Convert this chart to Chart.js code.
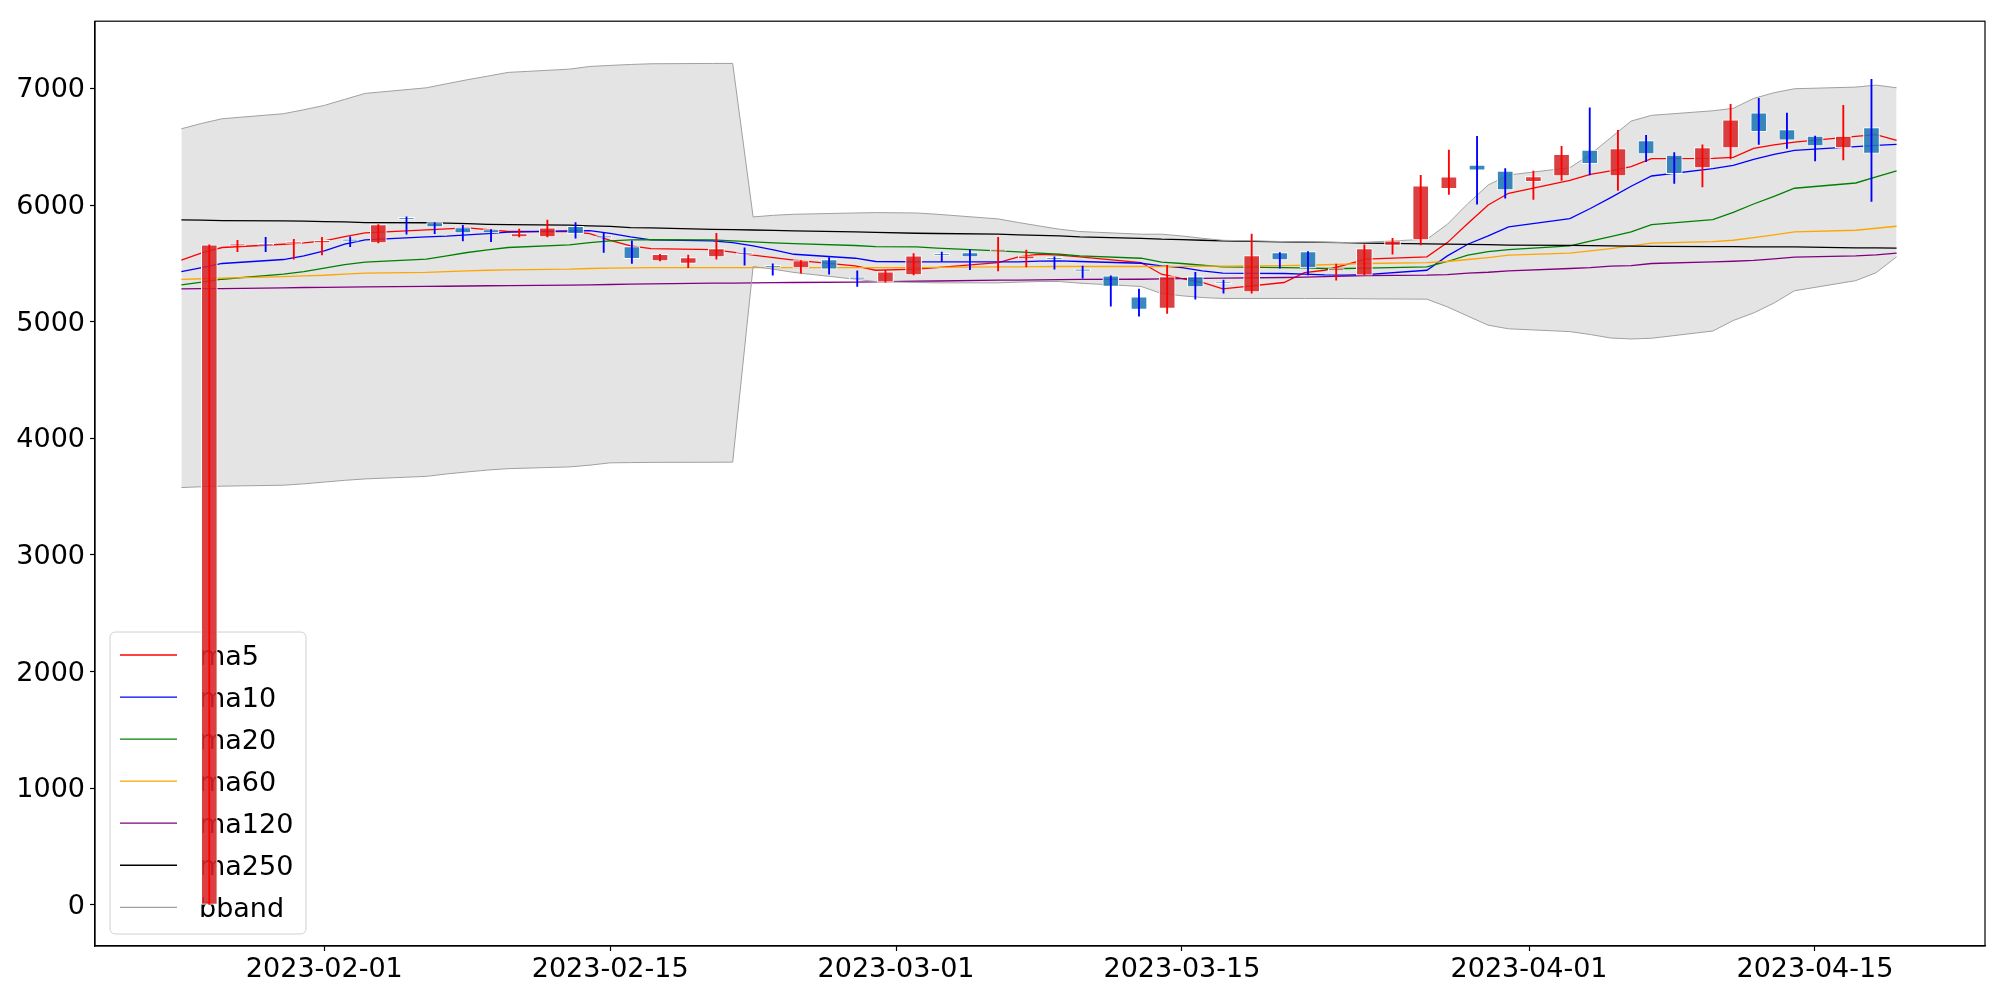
<!DOCTYPE html>
<html><head><meta charset="utf-8">
<script src="https://cdn.jsdelivr.net/npm/chart.js@4.4.0/dist/chart.umd.min.js"></script>
<style>html,body{margin:0;padding:0;background:#fff;}canvas{display:block;}</style>
</head><body>
<canvas id="c" width="2000" height="1000"></canvas>
<script>
const dates = ['2023-01-25','2023-01-26','2023-01-27','2023-01-30','2023-01-31','2023-02-01','2023-02-02','2023-02-03',
'2023-02-06','2023-02-07','2023-02-08','2023-02-09','2023-02-10','2023-02-13','2023-02-14','2023-02-15','2023-02-16','2023-02-17',
'2023-02-20','2023-02-21','2023-02-22','2023-02-23','2023-02-24','2023-02-27','2023-02-28','2023-03-02','2023-03-03',
'2023-03-06','2023-03-07','2023-03-08','2023-03-09','2023-03-10','2023-03-13','2023-03-14','2023-03-15','2023-03-16','2023-03-17',
'2023-03-20','2023-03-21','2023-03-22','2023-03-23','2023-03-24','2023-03-27','2023-03-28','2023-03-29','2023-03-30','2023-03-31',
'2023-04-03','2023-04-04','2023-04-05','2023-04-06','2023-04-07','2023-04-10','2023-04-11','2023-04-12','2023-04-13','2023-04-14',
'2023-04-17','2023-04-18','2023-04-19'];

const opens  = [0,5650,5660,5670,5675,5695,5675,5887,5850,5807,5790,5727,5727,5818,5723,5644,5521,5499,5555,5593,
5469,5461,5533,5369,5339,5402,5572,5593,5605,5538,5538,5438,5393,5213,5113,5387,5329,5256,5593,5601,
5436,5399,5653,5701,6141,6343,6292,6201,6249,6472,6249,6552,6429,6318,6489,6791,6646,6592,6489,6663];
const highs  = [5658,5698,5724,5707,5724,5727,5832,5898,5850,5827,5790,5793,5870,5850,5764,5693,5578,5570,5758,5633,
5496,5524,5550,5436,5441,5584,5596,5616,5724,5613,5556,5476,5393,5279,5484,5424,5356,5750,5593,5601,
5493,5658,5715,6255,6472,6589,6312,6292,6503,6834,6640,6597,6449,6517,6863,6914,6789,6592,6854,7077];
const lows   = [0,5601,5601,5536,5573,5644,5675,5750,5755,5693,5687,5727,5727,5715,5593,5499,5521,5464,5536,5484,
5399,5416,5407,5302,5339,5402,5516,5447,5436,5470,5450,5373,5133,5048,5071,5193,5244,5244,5459,5402,
5356,5399,5578,5658,6092,6007,6058,6049,6212,6258,6126,6372,6186,6155,6395,6520,6486,6378,6386,6032];
const closes = [5658,5663,5655,5674,5698,5691,5832,5877,5812,5761,5761,5755,5804,5755,5719,5541,5578,5550,5627,5576,
5465,5524,5450,5365,5427,5564,5568,5556,5609,5564,5534,5434,5302,5105,5387,5299,5325,5567,5530,5461,
5456,5627,5693,6164,6241,6298,6129,6244,6435,6355,6483,6438,6269,6492,6731,6629,6557,6506,6592,6443];

const ma5   = [5527,5590,5636,5664,5675,5693,5730,5761,5787,5795,5804,5790,5773,5773,5755,5698,5650,5627,5618,5596,
5570,5550,5527,5479,5441,5450,5464,5507,5556,5578,5570,5556,5507,5407,5370,5336,5282,5336,5421,5441,
5487,5536,5556,5678,5841,6001,6101,6212,6263,6292,6329,6398,6400,6409,6486,6515,6540,6589,6603,6555];
const ma10  = [5430,5464,5499,5533,5564,5607,5664,5701,5727,5733,5744,5755,5767,5778,5781,5758,5727,5701,5693,5678,
5650,5616,5578,5544,5516,5513,5513,5513,5513,5519,5521,5516,5501,5479,5464,5436,5416,5413,5407,5401,
5399,5404,5441,5564,5664,5735,5812,5884,5970,6064,6161,6249,6312,6340,6392,6435,6469,6500,6512,6520];
const ma20  = [5316,5340,5364,5407,5430,5459,5490,5510,5536,5564,5593,5616,5636,5658,5678,5693,5701,5704,5701,5693,
5684,5676,5670,5653,5644,5641,5630,5607,5598,5587,5578,5564,5544,5510,5499,5484,5470,5464,5461,5456,
5456,5459,5470,5516,5570,5601,5618,5650,5690,5730,5770,5832,5875,5938,6009,6075,6144,6189,6241,6292];
const ma60  = [5362,5368,5373,5387,5393,5398,5407,5416,5422,5430,5436,5441,5444,5450,5456,5459,5461,5464,5464,5464,
5464,5464,5464,5464,5464,5464,5466,5470,5470,5472,5473,5473,5473,5473,5475,5476,5476,5481,5484,5488,
5493,5499,5507,5516,5533,5550,5570,5587,5607,5627,5650,5673,5687,5698,5721,5744,5770,5784,5801,5818];
const ma120 = [5282,5283,5284,5290,5293,5295,5297,5299,5302,5304,5306,5308,5310,5313,5316,5319,5322,5325,5330,5331,
5333,5335,5336,5339,5341,5347,5349,5356,5357,5358,5360,5362,5364,5367,5369,5371,5373,5379,5382,5386,
5390,5396,5399,5404,5416,5424,5436,5456,5464,5476,5481,5499,5513,5518,5525,5538,5553,5564,5573,5587];
const ma250 = [5872,5870,5867,5864,5862,5858,5855,5850,5848,5845,5840,5835,5832,5827,5822,5817,5807,5804,5792,5789,
5786,5782,5779,5770,5766,5758,5756,5750,5745,5740,5735,5727,5715,5707,5703,5698,5693,5684,5682,5680,
5677,5673,5667,5665,5662,5660,5657,5654,5652,5650,5648,5646,5644,5643,5642,5641,5641,5633,5632,5630];
const bbUpper = [6654,6700,6740,6783,6817,6854,6906,6957,7005,7040,7074,7105,7137,7165,7188,7197,7205,7211,7214,7214,
5898,5912,5921,5932,5935,5932,5921,5881,5850,5821,5793,5773,5750,5750,5735,5715,5698,5687,5684,5681,
5678,5681,5707,5835,6012,6172,6258,6320,6435,6577,6720,6769,6808,6829,6914,6963,6997,7011,7028,7005];
const bbLower = [3578,3585,3590,3598,3610,3625,3640,3652,3674,3695,3712,3728,3740,3755,3770,3790,3792,3794,3795,3796,
5473,5450,5422,5364,5344,5336,5333,5333,5339,5344,5344,5330,5302,5242,5222,5207,5199,5199,5199,5199,
5198,5196,5193,5127,5048,4970,4939,4915,4890,4860,4852,4858,4920,5010,5075,5160,5265,5352,5420,5556];

const xTickLabels = ['2023-02-01','2023-02-15','2023-03-01','2023-03-15','2023-04-01','2023-04-15'];
const yTicks = [0,1000,2000,3000,4000,5000,6000,7000];
const legendNames = ['ma5','ma10','ma20','ma60','ma120','ma250','bband'];

// ---- layout / style constants ----
const FONT = '"DejaVu Sans", sans-serif';
const FS = 27;
const REF = Date.UTC(2023,1,1);
function dayNum(s){const p=s.split('-').map(Number);return (Date.UTC(p[0],p[1]-1,p[2])-REF)/86400000;}
const xs = dates.map(dayNum);
const XMIN = -11.23, XMAX = 81.33;       // date axis limits (days from 2023-02-01)
const X2MIN = -4.057, X2MAX = 63.03;     // candle (index) axis limits
const YMIN = -352, YMAX = 7576;
const lineColors = ['red','blue','green','orange','purple','black','#a0a0a0'];

const ser = a => a.map((v,i)=>({x:xs[i], y:v}));
const up = closes.map((c,i)=>c>=opens[i]);
const bodyColors = up.map(u=>u?'rgba(214,39,40,0.88)':'rgba(31,119,180,0.88)');
const wickColors = up.map(u=>u?'#ff0000':'#0000ff');

const maSets = [ma5,ma10,ma20,ma60,ma120,ma250];
const datasets = [];
datasets.push({type:'line', label:'bbU', data:ser(bbUpper), xAxisID:'x', borderColor:'#a0a0a0', borderWidth:1,
  backgroundColor:'#e4e4e4', fill:'+1', pointRadius:0, tension:0, order:8});
datasets.push({type:'line', label:'bbL', data:ser(bbLower), xAxisID:'x', borderColor:'#a0a0a0', borderWidth:1,
  fill:false, pointRadius:0, tension:0, order:9});
maSets.forEach((a,k)=>{
  datasets.push({type:'line', label:legendNames[k], data:ser(a), xAxisID:'x', borderColor:lineColors[k], borderWidth:1.3,
    fill:false, pointRadius:0, tension:0, order:15-k});
});
const BODY_INDEX = datasets.length;
datasets.push({type:'bar', label:'body', xAxisID:'x2', data:opens.map((o,i)=>({x:i, y:[o, closes[i]]})),
  backgroundColor:bodyColors, borderColor:'#ffffff', borderWidth:1, borderSkipped:false, barThickness:16,
  grouped:false, minBarLength:2, order:2});
datasets.push({type:'bar', label:'wick', xAxisID:'x2', data:lows.map((l,i)=>({x:i, y:[l, highs[i]]})),
  backgroundColor:wickColors, borderWidth:0, barThickness:1.2, grouped:false, order:1});

function drawLegend(ctx){
  ctx.save();
  const bx=110, by=632, bw=196, bh=302, r=6;
  ctx.beginPath();
  ctx.moveTo(bx+r,by); ctx.lineTo(bx+bw-r,by); ctx.quadraticCurveTo(bx+bw,by,bx+bw,by+r);
  ctx.lineTo(bx+bw,by+bh-r); ctx.quadraticCurveTo(bx+bw,by+bh,bx+bw-r,by+bh);
  ctx.lineTo(bx+r,by+bh); ctx.quadraticCurveTo(bx,by+bh,bx,by+bh-r);
  ctx.lineTo(bx,by+r); ctx.quadraticCurveTo(bx,by,bx+r,by); ctx.closePath();
  ctx.fillStyle='rgba(255,255,255,0.8)'; ctx.fill();
  ctx.strokeStyle='#d0d0d0'; ctx.lineWidth=1; ctx.stroke();
  ctx.font = FS+'px '+FONT; ctx.fillStyle='#000'; ctx.textAlign='left'; ctx.textBaseline='alphabetic';
  legendNames.forEach((n,i)=>{
    const y = 655 + i*42.05;
    ctx.beginPath(); ctx.moveTo(120,y); ctx.lineTo(177,y);
    ctx.strokeStyle=lineColors[i]; ctx.lineWidth=1.3; ctx.stroke();
    ctx.fillText(n, 199, y+10);
  });
  ctx.restore();
}

const framePlugin = {
  id:'frame',
  beforeDatasetDraw(chart,args){ if(args.index===BODY_INDEX) drawLegend(chart.ctx); },
  afterDraw(chart){
    const a=chart.chartArea, ctx=chart.ctx;
    ctx.save(); ctx.strokeStyle='#000'; ctx.lineWidth=1.2;
    ctx.strokeRect(a.left, a.top, a.right-a.left, a.bottom-a.top); ctx.restore();
  }
};

new Chart(document.getElementById('c'), {
  type:'line',
  data:{datasets},
  options:{
    responsive:false, animation:false, devicePixelRatio:1,
    layout:{padding:{top:20,right:15,left:0,bottom:0}},
    plugins:{legend:{display:false}, tooltip:{enabled:false}, filler:{drawTime:'beforeDatasetsDraw'}},
    scales:{
      x:{type:'linear', min:XMIN, max:XMAX, offset:false,
        afterBuildTicks:s=>{s.ticks = xTickLabels.map(l=>({value:dayNum(l)}));},
        afterFit:s=>{s.height=54;},
        ticks:{autoSkip:false, maxRotation:0, minRotation:0, padding:3, color:'#000', font:{family:FONT,size:FS},
          callback:(v)=>{const i=xTickLabels.findIndex(l=>dayNum(l)===v); return i>=0?xTickLabels[i]:'';}},
        grid:{display:true, drawOnChartArea:false, drawTicks:true, tickLength:5, color:'#000', tickWidth:1.2},
        border:{display:true, color:'#000', width:1.2}},
      x2:{type:'linear', display:false, min:X2MIN, max:X2MAX, offset:false},
      y:{type:'linear', min:YMIN, max:YMAX,
        afterBuildTicks:s=>{s.ticks = yTicks.map(v=>({value:v}));},
        afterFit:s=>{s.width=95;},
        ticks:{padding:5, labelOffset:2, color:'#000', font:{family:FONT,size:FS}, callback:v=>String(v)},
        grid:{display:true, drawOnChartArea:false, drawTicks:true, tickLength:5, color:'#000', tickWidth:1.2},
        border:{display:true, color:'#000', width:1.2}}
    }
  },
  plugins:[framePlugin]
});
</script>
</body></html>
